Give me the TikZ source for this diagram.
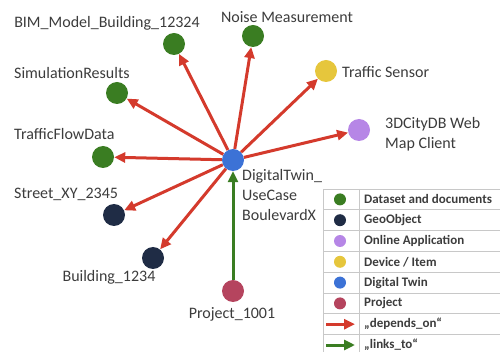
\documentclass[tikz,border=0pt]{standalone}
\usepackage{fontspec}
\setmainfont{Carlito}
\usetikzlibrary{arrows.meta}

\definecolor{dsgreen}{HTML}{3A7D22}
\definecolor{geonavy}{HTML}{1F2C45}
\definecolor{apppurple}{HTML}{B686E6}
\definecolor{devyellow}{HTML}{E6C63C}
\definecolor{twinblue}{HTML}{3C72D6}
\definecolor{prjred}{HTML}{B5445E}
\definecolor{deprred}{HTML}{D43A2C}
\definecolor{txtgray}{HTML}{3C3C3C}
\definecolor{gridgray}{HTML}{C8C8C8}

\tikzset{
  obj/.style={circle,inner sep=0pt,minimum size=22pt},
  dataset/.style={obj,fill=dsgreen},
  geoobj/.style={obj,fill=geonavy},
  onlineapp/.style={obj,fill=apppurple},
  device/.style={obj,fill=devyellow},
  twin/.style={obj,fill=twinblue},
  project/.style={obj,fill=prjred},
  lbl/.style={text=txtgray,inner sep=0pt,font=\fontsize{16}{20}\selectfont},
  dependson/.style={draw=deprred,line width=3pt,-{Triangle[length=11pt,width=10pt]}},
  linksto/.style={draw=dsgreen,line width=3pt,-{Triangle[length=11pt,width=10pt]}},
  legdot/.style={circle,inner sep=0pt,minimum size=12pt},
  legtxt/.style={text=txtgray,anchor=west,inner sep=0pt,font=\bfseries\fontsize{13}{14}\selectfont},
  tablegrid/.style={draw=gridgray,line width=0.8pt}
}

\begin{document}
\begin{tikzpicture}[x=1pt,y=-1pt]
  \useasboundingbox (0,0) rectangle (500,352);
  % objects
  \node[twin] (dt) at (233,160) {};
  \node[dataset] (bim) at (174,44) {};
  \node[dataset] (noise) at (253,36) {};
  \node[device] (sensor) at (326,71) {};
  \node[onlineapp] (webmap) at (359,130) {};
  \node[dataset] (simres) at (117,93) {};
  \node[dataset] (flow) at (103,157) {};
  \node[geoobj] (street) at (114,215) {};
  \node[geoobj] (bldg) at (153,258) {};
  \node[project] (prj) at (233,291) {};
  % labels
  \node[lbl] (bimlbl) at (107,23) {BIM\_Model\_Building\_12324};
  \node[lbl] (noiselbl) at (287,17) {Noise Measurement};
  \node[lbl,anchor=west] (sensorlbl) at (342,72) {Traffic Sensor};
  \node[lbl,anchor=west,align=left] (webmaplbl) at (385,134) {3DCityDB Web\\Map Client};
  \node[lbl,anchor=west] (simreslbl) at (14,73) {SimulationResults};
  \node[lbl,anchor=west] (flowlbl) at (14,134) {TrafficFlowData};
  \node[lbl,anchor=west] (streetlbl) at (14,194) {Street\_XY\_2345};
  \node[lbl] (bldglbl) at (109,277) {Building\_1234};
  \node[lbl] (prjlbl) at (232,314) {Project\_1001};
  \node[lbl,anchor=west,align=left] (dtlbl) at (242,195) {DigitalTwin\_\\UseCase\\BoulevardX};
  % connectors
  \foreach \t in {bim,noise,sensor,webmap,simres,flow,street,bldg}
    \draw[dependson] (dt) -- (\t);
  \draw[linksto] (prj) -- (dt);
  % legend table
  \foreach \i in {0,...,8}
    \draw[tablegrid] (323,{189+20.8*\i}) -- (500,{189+20.8*\i});
  \draw[tablegrid] (323,189) -- (323,352);
  \draw[tablegrid] (359,189) -- (359,352);
  \node[legdot,fill=dsgreen] (lg1) at (340,199.4) {};
  \node[legdot,fill=geonavy] (lg2) at (340,220.2) {};
  \node[legdot,fill=apppurple] (lg3) at (340,241.0) {};
  \node[legdot,fill=devyellow] (lg4) at (340,261.8) {};
  \node[legdot,fill=twinblue] (lg5) at (340,282.6) {};
  \node[legdot,fill=prjred] (lg6) at (340,303.4) {};
  \coordinate (lg7a) at (326,324.2);
  \coordinate (lg7b) at (355,324.2);
  \coordinate (lg8a) at (326,345.0);
  \coordinate (lg8b) at (355,345.0);
  \draw[dependson] (lg7a) -- (lg7b);
  \draw[linksto] (lg8a) -- (lg8b);
  \node[legtxt] (lt1) at (364,199.4) {Dataset and documents};
  \node[legtxt] (lt2) at (364,220.2) {GeoObject};
  \node[legtxt] (lt3) at (364,241.0) {Online Application};
  \node[legtxt] (lt4) at (364,261.8) {Device / Item};
  \node[legtxt] (lt5) at (364,282.6) {Digital Twin};
  \node[legtxt] (lt6) at (364,303.4) {Project};
  \node[legtxt] (lt7) at (364,324.2) {„depends\_on“};
  \node[legtxt] (lt8) at (364,345.0) {„links\_to“};
\end{tikzpicture}
\end{document}
